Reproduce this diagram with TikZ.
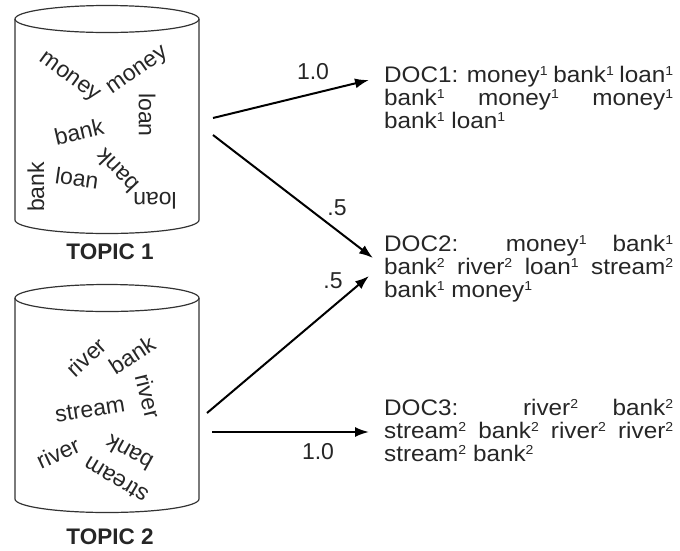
\documentclass[tikz,border=0pt]{standalone}
\usepackage{fontspec}
\setmainfont{Liberation Sans}
\newfontfamily\docfont[FakeStretch=1.08]{Liberation Sans}
\usetikzlibrary{arrows.meta}
\newcommand\sps[1]{\raisebox{7pt}{\fontsize{13}{13}\selectfont #1}}
\begin{document}
\begin{tikzpicture}[x=1pt,y=-1pt,
  cyl/.style={line width=1.2pt, draw=black!80},
  word/.style={font=\fontsize{23}{23}\selectfont, text=black!85, inner sep=0pt},
  docline/.style={font=\docfont\fontsize{22.5}{25}\selectfont, text=black!85, anchor=base west, inner sep=0pt},
  topic/.style={font=\bfseries\fontsize{22.5}{22.5}\selectfont, text=black!85, inner sep=0pt},
  arr/.style={line width=2pt, -{Latex[length=14pt,width=10pt]}},
  lab/.style={font=\fontsize{23}{23}\selectfont, text=black!85, inner sep=0pt}
]
\useasboundingbox (0,0) rectangle (680,550);

% ---- cylinder 1
\draw[cyl] (107,19) ellipse [x radius=92pt, y radius=13.5pt];
\draw[cyl] (15,19) -- (15,220) arc[start angle=180, end angle=360, x radius=92pt, y radius=13.5pt] -- (199,19);
\node[word, rotate=-36] (a1) at (69,78) {money};
\node[word, rotate=35] (a2) at (138,72) {money};
\node[word, rotate=-90] (a3) at (147,115) {loan};
\node[word, rotate=13] (a4) at (79,132) {bank};
\node[word, rotate=134] (a5) at (117,171) {bank};
\node[word, rotate=-8] (a6) at (77,178) {loan};
\node[word, rotate=90] (a7) at (36,187) {bank};
\node[word, rotate=180] (a8) at (155,201) {loan};
\node[topic] (tp1) at (110,252) {TOPIC 1};

% ---- cylinder 2
\draw[cyl] (107,298) ellipse [x radius=92pt, y radius=13.5pt];
\draw[cyl] (15,298) -- (15,499) arc[start angle=180, end angle=360, x radius=92pt, y radius=13.5pt] -- (199,298);
\node[word, rotate=43] (b1) at (86,357) {river};
\node[word, rotate=33] (b2) at (132,355) {bank};
\node[word, rotate=-76] (b3) at (148,396) {river};
\node[word, rotate=9] (b4) at (90,410) {stream};
\node[word, rotate=25] (b5) at (58,453) {river};
\node[word, rotate=151] (b6) at (129,453) {bank};
\node[word, rotate=149] (b7) at (116,480) {stream};
\node[topic] (tp2) at (110,537) {TOPIC 2};

% ---- documents
\node[docline] (d1a) at (384,82) {\makebox[289pt][s]{DOC1: money\sps{1} bank\sps{1} loan\sps{1}}};
\node[docline] (d1b) at (384,105) {\makebox[289pt][s]{bank\sps{1} money\sps{1} money\sps{1}}};
\node[docline] (d1c) at (384,128) {bank\sps{1} loan\sps{1}};

\node[docline] (d2a) at (384,251) {\makebox[289pt][s]{DOC2: money\sps{1} bank\sps{1}}};
\node[docline] (d2b) at (384,274) {\makebox[289pt][s]{bank\sps{2} river\sps{2} loan\sps{1} stream\sps{2}}};
\node[docline] (d2c) at (384,297) {bank\sps{1} money\sps{1}};

\node[docline] (d3a) at (384,415) {\makebox[289pt][s]{DOC3: river\sps{2} bank\sps{2}}};
\node[docline] (d3b) at (384,438) {\makebox[289pt][s]{stream\sps{2} bank\sps{2} river\sps{2} river\sps{2}}};
\node[docline] (d3c) at (384,461) {stream\sps{2} bank\sps{2}};

% ---- connectors
\coordinate (s1) at (213,118);
\coordinate (t1) at (369,80);
\coordinate (s2) at (213,135);
\coordinate (t2) at (373,258);
\coordinate (s3) at (207,413);
\coordinate (t3) at (369,276);
\coordinate (s4) at (212,432);
\coordinate (t4) at (369,432);
\draw[arr] (s1) -- (t1);
\draw[arr] (s2) -- (t2);
\draw[arr] (s3) -- (t3);
\draw[arr] (s4) -- (t4);
\node[lab] (l1) at (313,72) {1.0};
\node[lab] (l2) at (337,208) {.5};
\node[lab] (l3) at (333,281) {.5};
\node[lab] (l4) at (318,452) {1.0};
\end{tikzpicture}
\end{document}
